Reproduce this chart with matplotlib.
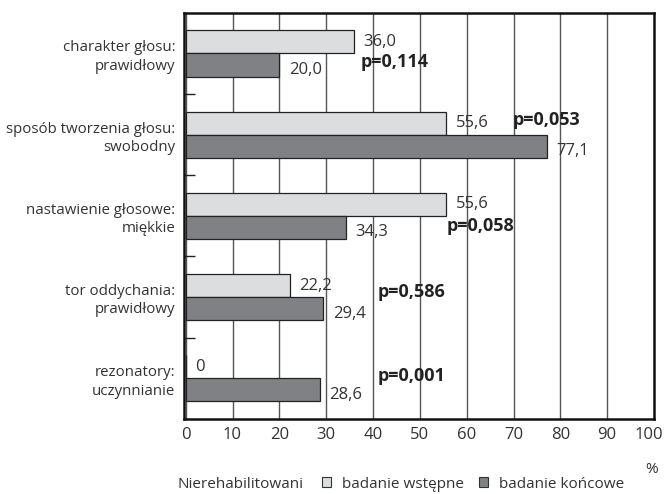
import matplotlib.pyplot as plt
from matplotlib.patches import Patch
from matplotlib.transforms import ScaledTranslation
import numpy as np

plt.rcParams['font.family'] = ['Open Sans', 'DejaVu Sans']

categories = ["charakter głosu:\nprawidłowy",
              "sposób tworzenia głosu:\nswobodny",
              "nastawienie głosowe:\nmiękkie",
              "tor oddychania:\nprawidłowy",
              "rezonatory:\nuczynnianie"]
wstepne = [36.0, 55.6, 55.6, 22.2, 0.0]
koncowe = [20.0, 77.1, 34.3, 29.4, 28.6]
wstepne_txt = ["36,0", "55,6", "55,6", "22,2", "0"]
koncowe_txt = ["20,0", "77,1", "34,3", "29,4", "28,6"]
p_values = ["p=0,114", "p=0,053", "p=0,058", "p=0,586", "p=0,001"]
# where each p label sits: (x in %, row offset from group centre)
p_pos = [(37.4, 0.11), (69.8, -0.18), (55.8, 0.13), (41.0, -0.06), (41.0, -0.03)]

light = "#dcdddf"
dark = "#808184"
txt = "#333333"

fig = plt.figure(figsize=(6.66, 4.94), dpi=100)
ax = fig.add_axes([0.276, 0.152, 0.706, 0.822])

y = np.arange(len(categories))
h = 0.285
ax.barh(y - h / 2, wstepne, height=h, color=light, edgecolor="#222222", linewidth=0.9, zorder=3)
ax.barh(y + h / 2, koncowe, height=h, color=dark, edgecolor="#222222", linewidth=0.9, zorder=3)

for i in range(len(categories)):
    ax.text(wstepne[i] + 2.0, y[i] - h / 2, wstepne_txt[i], va="center", ha="left",
            fontsize=12, color=txt, zorder=4)
    ax.text(koncowe[i] + 2.0, y[i] + h / 2 + 0.06, koncowe_txt[i], va="center", ha="left",
            fontsize=12, color=txt, zorder=4)
    px, dy = p_pos[i]
    ax.text(px, y[i] + dy, p_values[i], va="center", ha="left", fontsize=13,
            fontweight="bold", color="#222222", zorder=4)

ax.set_xlim(-0.4, 100)
ax.set_ylim(len(categories) - 0.5, -0.5)
ax.set_xticks(range(0, 101, 10))
ax.set_yticks(y)
ax.set_yticklabels(categories, fontsize=10.8, color=txt, linespacing=1.3)
ax.set_yticks(y[:-1] + 0.5, minor=True)
ax.tick_params(axis="y", which="major", length=0, pad=6)
ax.tick_params(axis="y", which="minor", direction="in", length=8, width=1.0, color="#222222")
ax.tick_params(axis="x", length=0, pad=6, labelsize=12, labelcolor=txt)
ax.grid(axis="x", color="#555555", linewidth=1.0, zorder=0)
for s in ax.spines.values():
    s.set_linewidth(1.8)
    s.set_color("#111111")

# last tick label pushed a little left so it stays inside the figure
last = ax.get_xticklabels()[-1]
last.set_transform(last.get_transform() + ScaledTranslation(-4 / 72, 0, fig.dpi_scale_trans))

fig.text(0.979, 0.049, "%", ha="center", va="center", fontsize=11, color=txt)
fig.text(0.267, 0.02, "Nierehabilitowani", ha="left", va="center", fontsize=11, color=txt)
handles = [Patch(facecolor=light, edgecolor="#333333", linewidth=0.8),
           Patch(facecolor=dark, edgecolor="#333333", linewidth=0.8)]
fig.legend(handles, ["badanie wstępne", "badanie końcowe"], ncol=2, frameon=False,
           loc="center left", bbox_to_anchor=(0.483, 0.02), fontsize=11,
           handlelength=0.6, handleheight=0.6, handletextpad=0.7, columnspacing=1.0,
           labelcolor=txt, borderpad=0, borderaxespad=0)

fig.savefig("out.png", dpi=100)
